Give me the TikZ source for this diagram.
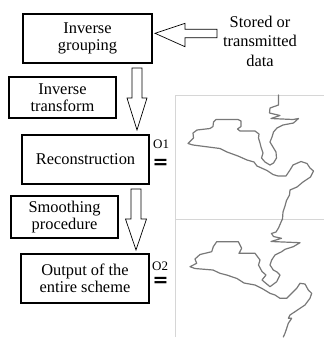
\documentclass[tikz,border=0pt]{standalone}
\usepackage{fontspec}
\setmainfont{Liberation Serif}
\newfontfamily\eqfont{DejaVu Sans}
\definecolor{coastgray}{RGB}{120,120,120}
\definecolor{framegray}{RGB}{214,214,214}
\begin{document}
\begin{tikzpicture}[x=1pt,y=-1pt,
  box/.style={draw=black, line width=1.7pt, align=center, inner sep=0pt,
    font=\fontsize{16.4}{17.5}\selectfont},
  blockarrow/.style={draw=black, line width=0.7pt, fill=white, line join=miter},
  frameline/.style={draw=framegray, line width=0.8pt},
  coast/.style={draw=coastgray, line width=1.2pt, line join=round, line cap=round},
  lbl/.style={font=\fontsize{13}{13}\selectfont, inner sep=0pt},
  eqsign/.style={font=\eqfont\bfseries\fontsize{19}{19}\selectfont, inner sep=0pt},
]
\useasboundingbox (0,0) rectangle (324,338);

% boxes
\node[box, minimum width=129pt, minimum height=49pt] (grp) at (87.5,38.5) {Inverse\\grouping};
\node[box, minimum width=107pt, minimum height=41pt] (itr) at (62.5,97.5) {Inverse\\transform};
\node[box, minimum width=127pt, minimum height=49pt] (rec) at (85.5,159.5) {Reconstruction};
\node[box, minimum width=107pt, minimum height=42pt] (smo) at (64.5,217) {Smoothing\\procedure};
\node[box, minimum width=128pt, minimum height=49pt] (out) at (85,278.5) {Output of the\\entire scheme};

\node[align=center, inner sep=0pt, font=\fontsize{16.4}{19.5}\selectfont] (data) at (260,41) {Stored or\\transmitted\\data};

% hollow block arrows
\draw[blockarrow] (155,33.3) -- (185,23.3) -- (185,29.3) -- (217,29.3) -- (217,37.7)
  -- (185,37.7) -- (185,46.7) -- cycle;
\draw[blockarrow] (132,68) -- (142,68) -- (142,98) -- (147,98) -- (137,130)
  -- (127,98) -- (132,98) -- cycle;
\draw[blockarrow] (131,189) -- (141,189) -- (141,219) -- (146.5,219) -- (136,250)
  -- (125.5,219) -- (131,219) -- cycle;

% labels
\node[lbl, anchor=base west] (o1) at (153,148) {O1};
\node[eqsign] (eq1) at (160.5,164) {=};
\node[lbl, anchor=base west] (o2) at (152,270.5) {O2};
\node[eqsign] (eq2) at (160.5,282) {=};

% map frames
\draw[frameline] (175,337) -- (175,95) -- (324,95);
\draw[frameline] (175,219) -- (324,219);

% map 1
\draw[coast] (278.5,95) -- (278.5,105) -- (270,108) -- (269.5,113) -- (280,115.5) -- (271,118.5)
 -- (293,119.5) -- (298.5,118.5) -- (293.5,123) -- (283,125) -- (277,128) -- (273.5,132)
 -- (272,137) -- (270,142) -- (273,147) -- (276,152) -- (276.5,158) -- (273.5,163) -- (270,165)
 -- (265,162) -- (261.5,158) -- (263,153) -- (261,147) -- (260,143) -- (258.5,138) -- (259,134)
 -- (255,131) -- (240,131) -- (237.5,129) -- (241,126.5) -- (241,121) -- (238,119.5)
 -- (216,119.5) -- (213.5,122) -- (213,126.5) -- (210,128.5) -- (197,130) -- (193,133)
 -- (193.5,138) -- (190,141.5) -- (188,143.5) -- (193,145) -- (220,148.5) -- (227,152)
 -- (238,156) -- (247,160) -- (254,162) -- (257,166) -- (267,170.5) -- (273,174.5)
 -- (278,176) -- (286,176) -- (290,170) -- (293,165) -- (301,161.5) -- (307,163.5)
 -- (310,168) -- (313.5,171) -- (310.5,177) -- (303,182) -- (297,187) -- (290,190)
 -- (289.5,195) -- (286.5,200.5) -- (285,206) -- (283,212) -- (282.5,219);

% map 2
\draw[coast] (282.5,219) -- (281.5,221) -- (278.5,228) -- (276,232) -- (271.5,233.5)
 -- (273.5,236.5) -- (281.5,238.3) -- (271,241.5) -- (300,242.7) -- (293.3,246.7)
 -- (285,249.3) -- (281.7,251.7) -- (275,255) -- (271.7,260) -- (270,265) -- (273.3,270)
 -- (277,272) -- (280,275) -- (276.7,281.7) -- (270,286.7) -- (262,280) -- (266,275)
 -- (262,271.5) -- (258.5,265) -- (260,260) -- (255,253.3) -- (239,253.3) -- (241.7,248.3)
 -- (238.3,241.7) -- (216.7,241.7) -- (213.3,246.7) -- (211.7,251.7) -- (200,254.5)
 -- (195,259) -- (196.7,263.3) -- (190,266.7) -- (195,268.5) -- (213,270) -- (220,273.3)
 -- (226.7,275) -- (237,278.5) -- (244,283) -- (255,285) -- (261.7,288.3) -- (270,293.3)
 -- (275,295) -- (280,298.3) -- (286.7,298.3) -- (291.7,293.3) -- (296.7,288.3)
 -- (300,283.3) -- (305,284) -- (308.3,290) -- (311.7,293.3) -- (310,298.3) -- (305,305)
 -- (300,308.3) -- (295,311.7) -- (290,315) -- (288.3,318.3) -- (291.7,318.3)
 -- (288.3,323.3) -- (286.7,328.3) -- (285,333.3) -- (283.3,337);
\end{tikzpicture}
\end{document}
